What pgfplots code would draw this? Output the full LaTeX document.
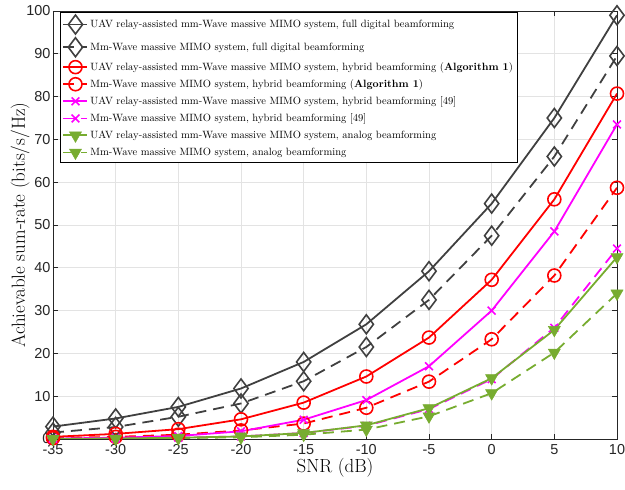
\documentclass[border=0pt]{standalone}
\usepackage{fontspec}
\usepackage{pgfplots}
\pgfplotsset{compat=1.18}
\usetikzlibrary{plotmarks}
\newfontfamily\tickfont{Liberation Sans}
\definecolor{dgray}{HTML}{404040}
\definecolor{mgreen}{HTML}{77AC30}
\definecolor{mmag}{HTML}{FF00FF}
\definecolor{axc}{HTML}{262626}
\definecolor{gridc}{HTML}{E3E3E3}
\begin{document}
\begin{tikzpicture}
\begin{axis}[
  name=ax,
  scale only axis,
  width=564bp, height=428bp,
  xmin=-35, xmax=10, ymin=0, ymax=100,
  xtick={-35,-30,...,10}, ytick={0,10,...,100},
  grid=major, major grid style={gridc, line width=0.7pt},
  axis line style={axc, line width=0.6pt},
  tick style={axc, line width=0.6pt},
  tick align=inside, major tick length=5bp,
  /pgf/number format/assume math mode=true,
  ticklabel style={font=\tickfont\fontsize{14.5}{16}\selectfont, text=axc},
  xticklabel style={yshift=-2bp},
  yticklabel style={xshift=1bp},
  xlabel={SNR (dB)},
  ylabel={Achievable sum-rate (bits/s/Hz)},
  label style={font=\fontsize{19}{22}\selectfont, text=black},
  xlabel style={yshift=3bp},
  ylabel style={yshift=-10bp},
  legend style={at={(rel axis cs:0.013,0.997)}, anchor=north west,
    font=\fontsize{10.6}{13}\selectfont, draw=black, line width=0.5pt,
    row sep=3.7bp, inner xsep=2bp, inner ysep=2.5bp, fill=white},
  legend cell align=left,
  legend image code/.code={\draw[mark repeat=2,mark phase=2] plot coordinates {(0bp,0bp) (12bp,0bp) (24bp,0bp)};},
  every axis plot/.append style={line width=1.8pt},
]
\addplot[dgray, solid, mark=diamond, mark size=9.5bp, mark options={solid, line width=1.6pt, fill=none}]
  coordinates {(-35,2.9) (-30,4.8) (-25,7.5) (-20,11.8) (-15,18) (-10,26.8) (-5,39.2) (0,55) (5,75) (10,99)};
\addlegendentry{UAV relay-assisted mm-Wave massive MIMO system, full digital beamforming}
\addplot[dgray, dash pattern=on 11bp off 7bp, mark=diamond, mark size=9.5bp, mark options={solid, line width=1.6pt, fill=none}]
  coordinates {(-35,1.5) (-30,2.8) (-25,5.2) (-20,8.3) (-15,13.5) (-10,21.5) (-5,32.5) (0,47.5) (5,66) (10,89.5)};
\addlegendentry{Mm-Wave massive MIMO system, full digital beamforming}
\addplot[red, solid, mark=o, mark size=6.5bp, mark options={solid, line width=1.6pt}]
  coordinates {(-35,0.5) (-30,1.2) (-25,2.3) (-20,4.6) (-15,8.5) (-10,14.6) (-5,23.7) (0,37.2) (5,56) (10,80.7)};
\addlegendentry{UAV relay-assisted mm-Wave massive MIMO system, hybrid beamforming (\textbf{Algorithm 1})}
\addplot[red, dash pattern=on 11bp off 7bp, mark=o, mark size=6.5bp, mark options={solid, line width=1.6pt}]
  coordinates {(-35,0.2) (-30,0.5) (-25,1.0) (-20,2.0) (-15,3.6) (-10,7.3) (-5,13.4) (0,23.3) (5,38.2) (10,58.7)};
\addlegendentry{Mm-Wave massive MIMO system, hybrid beamforming (\textbf{Algorithm 1})}
\addplot[mmag, solid, mark=x, mark size=5.5bp, mark options={solid, line width=1.6pt}]
  coordinates {(-35,0.1) (-30,0.3) (-25,0.7) (-20,1.8) (-15,4.5) (-10,9.1) (-5,17) (0,30) (5,48.5) (10,73.5)};
\addlegendentry{UAV relay-assisted mm-Wave massive MIMO system, hybrid beamforming [49]}
\addplot[mmag, dash pattern=on 11bp off 7bp, mark=x, mark size=5.5bp, mark options={solid, line width=1.6pt}]
  coordinates {(-35,0.05) (-30,0.1) (-25,0.3) (-20,0.6) (-15,1.4) (-10,3.1) (-5,7) (0,14) (5,26) (10,44.5)};
\addlegendentry{Mm-Wave massive MIMO system, hybrid beamforming [49]}
\addplot[mgreen, solid, mark=triangle*, mark size=7bp, mark options={solid, rotate=180, fill=mgreen, line width=0.5pt}]
  coordinates {(-35,0.05) (-30,0.1) (-25,0.3) (-20,0.6) (-15,1.4) (-10,3.2) (-5,7.2) (0,14.2) (5,25.5) (10,42.5)};
\addlegendentry{UAV relay-assisted mm-Wave massive MIMO system, analog beamforming}
\addplot[mgreen, dash pattern=on 11bp off 7bp, mark=triangle*, mark size=7bp, mark options={solid, rotate=180, fill=mgreen, line width=0.5pt}]
  coordinates {(-35,0.03) (-30,0.07) (-25,0.2) (-20,0.4) (-15,1.0) (-10,2.2) (-5,5.3) (0,10.7) (5,20.2) (10,34)};
\addlegendentry{Mm-Wave massive MIMO system, analog beamforming}
\end{axis}
\pgfresetboundingbox
\path ([shift={(-53bp,-51bp)}]ax.south west) rectangle ([shift={(8bp,11bp)}]ax.north east);
\end{tikzpicture}
\end{document}
